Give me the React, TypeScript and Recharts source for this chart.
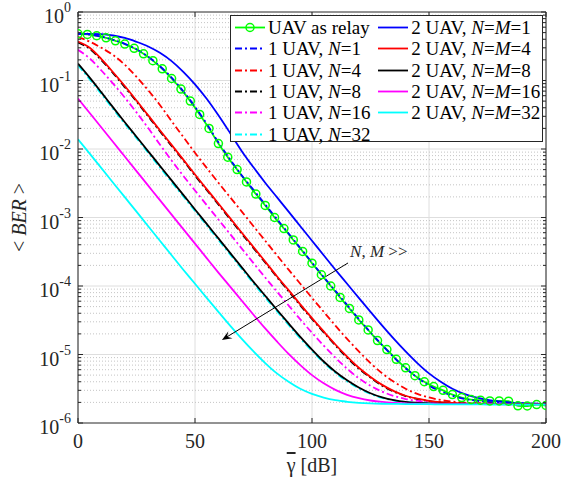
import React from 'react';
import { LineChart, Line, XAxis, YAxis, CartesianGrid, ReferenceLine, Legend } from 'recharts';

// SNR grid (dB) of the simulated curves, and of the "UAV as relay" markers
const GAMMA_DB = [
    0, 5, 10, 15, 20, 25, 30, 35, 40, 45, 50, 55, 60, 65, 70, 75, 80, 85, 90, 95, 100,
    105, 110, 115, 120, 125, 130, 135, 140, 145, 150, 155, 160, 165, 170, 175, 180, 185, 190, 195, 200
];
const GAMMA_RELAY_DB = [
    0, 4, 8, 12, 16, 20, 24, 28, 32, 36, 40, 44, 48, 52, 56, 60, 64, 68, 72, 76, 80, 84, 88, 92, 96,
    100, 104, 108, 112, 116, 120, 124, 128, 132, 136, 140, 144, 148, 152, 156, 160, 164, 168, 172,
    176, 180, 184, 188, 192, 196, 200
];

const BER_RELAY = [
    0.48, 0.47, 0.45, 0.42, 0.38, 0.34, 0.295, 0.245, 0.195, 0.148,
    0.107, 0.075, 0.05, 0.032, 0.02, 0.012, 0.0076, 0.005, 0.0033, 0.0022,
    0.0015, 0.001, 6.9e-4, 4.7e-4, 3.2e-4, 2.15e-4, 1.46e-4, 1.0e-4, 6.8e-5, 4.7e-5,
    3.2e-5, 2.28e-5, 1.6e-5, 1.18e-5, 8.5e-6, 6.4e-6, 4.9e-6, 4.0e-6, 3.4e-6, 3.0e-6,
    2.6e-6, 2.35e-6, 2.2e-6, 2.15e-6, 2.1e-6, 2.1e-6, 2.08e-6, 1.78e-6, 1.77e-6, 1.86e-6, 1.8e-6
];
const BER_1UAV_N1 = [
    0.48, 0.467, 0.436, 0.393, 0.343, 0.286, 0.222, 0.162, 0.11, 0.0698,
    0.0414, 0.0233, 0.0125, 0.00706, 0.00411, 0.00253, 0.00155, 9.5e-4, 5.85e-4, 3.59e-4,
    2.2e-4, 1.35e-4, 8.5e-5, 5.3e-5, 3.3e-5, 2.1e-5, 1.37e-5, 9.1e-6, 6.3e-6, 4.6e-6,
    3.5e-6, 2.9e-6, 2.5e-6, 2.25e-6, 2.12e-6, 2.03e-6, 1.98e-6, 1.95e-6, 1.93e-6, 1.91e-6, 1.9e-6
];
const BER_1UAV_N4 = [
    0.43, 0.37, 0.3, 0.235, 0.17, 0.113, 0.072, 0.044, 0.0255, 0.015,
    0.0088, 0.0053, 0.00322, 0.00198, 0.00122, 7.46e-4, 4.58e-4, 2.81e-4, 1.73e-4, 1.08e-4,
    6.7e-5, 4.2e-5, 2.64e-5, 1.69e-5, 1.11e-5, 7.5e-6, 5.3e-6, 4.0e-6, 3.16e-6, 2.66e-6,
    2.36e-6, 2.17e-6, 2.06e-6, 1.99e-6, 1.95e-6, 1.93e-6, 1.92e-6, 1.91e-6, 1.9e-6, 1.9e-6, 1.9e-6
];
const BER_1UAV_N8 = [
    0.36, 0.29, 0.198, 0.128, 0.08, 0.0495, 0.03, 0.0182, 0.0111, 0.0068,
    0.0041, 0.00252, 0.00155, 9.5e-4, 5.8e-4, 3.58e-4, 2.2e-4, 1.35e-4, 8.4e-5, 5.2e-5,
    3.3e-5, 2.1e-5, 1.36e-5, 9.0e-6, 6.2e-6, 4.6e-6, 3.5e-6, 2.87e-6, 2.47e-6, 2.23e-6,
    2.09e-6, 2.01e-6, 1.96e-6, 1.93e-6, 1.92e-6, 1.91e-6, 1.9e-6, 1.9e-6, 1.89e-6, 1.89e-6, 1.89e-6
];
const BER_1UAV_N16 = [
    0.28, 0.21, 0.14, 0.09, 0.0564, 0.0342, 0.0202, 0.0116, 0.0068, 0.00406,
    0.00248, 0.00152, 9.34e-4, 5.73e-4, 3.52e-4, 2.16e-4, 1.33e-4, 8.3e-5, 5.2e-5, 3.25e-5,
    2.07e-5, 1.35e-5, 9.0e-6, 6.2e-6, 4.5e-6, 3.5e-6, 2.87e-6, 2.48e-6, 2.24e-6, 2.1e-6,
    2.02e-6, 1.97e-6, 1.94e-6, 1.92e-6, 1.91e-6, 1.9e-6, 1.9e-6, 1.89e-6, 1.89e-6, 1.89e-6, 1.89e-6
];
const BER_1UAV_N32 = [
    0.166, 0.104, 0.0635, 0.0385, 0.0234, 0.0144, 0.0088, 0.0054, 0.0033, 0.00203,
    0.00125, 7.67e-4, 4.7e-4, 2.89e-4, 1.78e-4, 1.09e-4, 6.8e-5, 4.3e-5, 2.7e-5, 1.72e-5,
    1.13e-5, 7.6e-6, 5.4e-6, 4.05e-6, 3.2e-6, 2.66e-6, 2.32e-6, 2.13e-6, 2.02e-6, 1.96e-6,
    1.93e-6, 1.91e-6, 1.9e-6, 1.9e-6, 1.89e-6, 1.89e-6, 1.89e-6, 1.88e-6, 1.88e-6, 1.88e-6, 1.88e-6
];
const BER_2UAV_NM1 = [
    0.48, 0.478, 0.475, 0.454, 0.418, 0.367, 0.314, 0.254, 0.192, 0.134,
    0.088, 0.054, 0.031, 0.0171, 0.0093, 0.0054, 0.00322, 0.00198, 0.00122, 7.46e-4,
    4.58e-4, 2.81e-4, 1.73e-4, 1.08e-4, 6.7e-5, 4.2e-5, 2.64e-5, 1.69e-5, 1.11e-5, 7.5e-6,
    5.3e-6, 4.0e-6, 3.16e-6, 2.66e-6, 2.36e-6, 2.17e-6, 2.06e-6, 1.99e-6, 1.95e-6, 1.92e-6, 1.9e-6
];
const BER_2UAV_NM4 = [
    0.37, 0.3, 0.205, 0.132, 0.083, 0.051, 0.031, 0.0188, 0.0115, 0.007,
    0.00424, 0.0026, 0.0016, 9.8e-4, 6.0e-4, 3.7e-4, 2.27e-4, 1.39e-4, 8.7e-5, 5.4e-5,
    3.4e-5, 2.17e-5, 1.4e-5, 9.3e-6, 6.4e-6, 4.7e-6, 3.6e-6, 2.92e-6, 2.5e-6, 2.26e-6,
    2.11e-6, 2.02e-6, 1.97e-6, 1.94e-6, 1.92e-6, 1.91e-6, 1.9e-6, 1.9e-6, 1.9e-6, 1.89e-6, 1.89e-6
];
const BER_2UAV_NM8 = [
    0.176, 0.11, 0.067, 0.0405, 0.0246, 0.0151, 0.00925, 0.00568, 0.00348, 0.00214,
    0.00131, 8.07e-4, 4.95e-4, 3.04e-4, 1.87e-4, 1.15e-4, 7.2e-5, 4.5e-5, 2.84e-5, 1.81e-5,
    1.18e-5, 7.9e-6, 5.6e-6, 4.2e-6, 3.3e-6, 2.72e-6, 2.36e-6, 2.15e-6, 2.03e-6, 1.97e-6,
    1.93e-6, 1.91e-6, 1.9e-6, 1.9e-6, 1.89e-6, 1.89e-6, 1.89e-6, 1.88e-6, 1.88e-6, 1.88e-6, 1.88e-6
];
const BER_2UAV_NM16 = [
    0.0546, 0.0335, 0.0206, 0.01265, 0.00776, 0.00476, 0.00292, 0.00179, 0.0011, 6.77e-4,
    4.16e-4, 2.55e-4, 1.57e-4, 9.8e-5, 6.1e-5, 3.8e-5, 2.4e-5, 1.55e-5, 1.02e-5, 7.0e-6,
    5.0e-6, 3.8e-6, 3.05e-6, 2.58e-6, 2.3e-6, 2.13e-6, 2.03e-6, 1.97e-6, 1.93e-6, 1.91e-6,
    1.9e-6, 1.89e-6, 1.89e-6, 1.88e-6, 1.88e-6, 1.88e-6, 1.88e-6, 1.87e-6, 1.87e-6, 1.87e-6, 1.87e-6
];
const BER_2UAV_NM32 = [
    0.0139, 0.00855, 0.00525, 0.00322, 0.00198, 0.00122, 7.46e-4, 4.58e-4, 2.81e-4, 1.73e-4,
    1.08e-4, 6.7e-5, 4.2e-5, 2.64e-5, 1.69e-5, 1.11e-5, 7.5e-6, 5.3e-6, 4.0e-6, 3.16e-6,
    2.66e-6, 2.35e-6, 2.15e-6, 2.04e-6, 1.97e-6, 1.93e-6, 1.91e-6, 1.9e-6, 1.89e-6, 1.88e-6,
    1.88e-6, 1.87e-6, 1.87e-6, 1.87e-6, 1.87e-6, 1.86e-6, 1.86e-6, 1.86e-6, 1.86e-6, 1.86e-6, 1.86e-6
];

const X_TICKS = [0, 50, 100, 150, 200];
const Y_DECADES = [1e-6, 1e-5, 1e-4, 1e-3, 1e-2, 1e-1, 1];
const Y_MINOR_STEPS = [2, 3, 4, 5, 6, 7, 8, 9];

// "N, M >>" arrow, in data units (dB, BER)
const ARROW_FROM = { x: 115.4, y: 2.17e-4 };
const ARROW_TO = { x: 61.5, y: 1.63e-5 };

const SERIF = '"Liberation Serif", "Times New Roman", "DejaVu Serif", serif';
const AXIS = '#262626';
const DASHDOT = '7 3 2 3';
const PLOT_W = 468;
const PLOT_H = 411;

const Nv = () => <i>N</i>;
const Mv = () => <i>M</i>;

type Serie = {
    id: string;
    label: React.ReactNode;
    color: string;
    dash?: string;
    marker?: boolean;
    xs: number[];
    ys: number[];
};

const ONE_UAV: Serie[] = [
    { id: 'u1n1', label: <>1 UAV, <Nv />=1</>, color: '#0000ff', dash: DASHDOT, xs: GAMMA_DB, ys: BER_1UAV_N1 },
    { id: 'u1n4', label: <>1 UAV, <Nv />=4</>, color: '#ff0000', dash: DASHDOT, xs: GAMMA_DB, ys: BER_1UAV_N4 },
    { id: 'u1n8', label: <>1 UAV, <Nv />=8</>, color: '#000000', dash: DASHDOT, xs: GAMMA_DB, ys: BER_1UAV_N8 },
    { id: 'u1n16', label: <>1 UAV, <Nv />=16</>, color: '#ff00ff', dash: DASHDOT, xs: GAMMA_DB, ys: BER_1UAV_N16 },
    { id: 'u1n32', label: <>1 UAV, <Nv />=32</>, color: '#00ffff', dash: DASHDOT, xs: GAMMA_DB, ys: BER_1UAV_N32 }
];
const TWO_UAV: Serie[] = [
    { id: 'u2m1', label: <>2 UAV, <Nv />=<Mv />=1</>, color: '#0000ff', xs: GAMMA_DB, ys: BER_2UAV_NM1 },
    { id: 'u2m4', label: <>2 UAV, <Nv />=<Mv />=4</>, color: '#ff0000', xs: GAMMA_DB, ys: BER_2UAV_NM4 },
    { id: 'u2m8', label: <>2 UAV, <Nv />=<Mv />=8</>, color: '#000000', xs: GAMMA_DB, ys: BER_2UAV_NM8 },
    { id: 'u2m16', label: <>2 UAV, <Nv />=<Mv />=16</>, color: '#ff00ff', xs: GAMMA_DB, ys: BER_2UAV_NM16 },
    { id: 'u2m32', label: <>2 UAV, <Nv />=<Mv />=32</>, color: '#00ffff', xs: GAMMA_DB, ys: BER_2UAV_NM32 }
];
const RELAY: Serie = {
    id: 'relay', label: 'UAV as relay', color: '#00ff00', marker: true, xs: GAMMA_RELAY_DB, ys: BER_RELAY
};
const ALL_SERIES = [RELAY, ...ONE_UAV, ...TWO_UAV];

const toPoints = (xs: number[], ys: number[]) => xs.map((x, i) => ({ x, y: ys[i] }));

const minorTicks = Y_DECADES.slice(0, -1).flatMap(d => Y_MINOR_STEPS.map(m => m * d));
const yTicks = [...Y_DECADES, ...minorTicks].sort((a, b) => a - b);

const isDecade = (v: number) => {
    const e = Math.log10(v);
    return Math.abs(e - Math.round(e)) < 1e-6;
};

// ticks point inward, on both sides of the box (matlab style)
const renderYTick = (props: any) => {
    const { x, y, payload } = props;
    const v = payload.value as number;
    const major = isDecade(v);
    const len = major ? 5 : 3;
    return (
        <g>
            <line x1={x} x2={x + len} y1={y} y2={y} stroke={AXIS} />
            <line x1={x + PLOT_W - len} x2={x + PLOT_W} y1={y} y2={y} stroke={AXIS} />
            {major && (
                <text x={x - 7} y={y + 11} textAnchor="end" fontFamily={SERIF} fontSize={20} fill={AXIS}>
                    10<tspan dy={-11} fontSize={14}>{Math.round(Math.log10(v))}</tspan>
                </text>
            )}
        </g>
    );
};

const renderXTick = (props: any) => {
    const { x, y, payload } = props;
    return (
        <g>
            <line x1={x} x2={x} y1={y} y2={y - 5} stroke={AXIS} />
            <line x1={x} x2={x} y1={y - PLOT_H} y2={y - PLOT_H + 5} stroke={AXIS} />
            <text x={x} y={y + 25} textAnchor="middle" fontFamily={SERIF} fontSize={20} fill={AXIS}>
                {payload.value}
            </text>
        </g>
    );
};

const renderXLabel = (props: any) => {
    const { x, y, width } = props.viewBox;
    return (
        <text x={x + width / 2} y={y + 49} textAnchor="middle" fontFamily={SERIF} fontSize={20} fill={AXIS}>
            <tspan style={{ textDecoration: 'overline' }}>γ</tspan> [dB]
        </text>
    );
};

const renderYLabel = (props: any) => {
    const { y, height } = props.viewBox;
    const cx = 26;
    const cy = y + height / 2;
    return (
        <text x={cx} y={cy} transform={`rotate(-90, ${cx}, ${cy})`} textAnchor="middle" fontFamily={SERIF} fontSize={20} fill={AXIS}>
            {'< '}<tspan fontStyle="italic">BER</tspan>{' >'}
        </text>
    );
};

const renderArrow = (props: any) => {
    const { x1, y1, x2, y2 } = props;
    const len = Math.hypot(x1 - x2, y1 - y2);
    const ux = (x1 - x2) / len;
    const uy = (y1 - y2) / len;
    const head = 10;
    const half = 4;
    const bx = x2 + ux * head;
    const by = y2 + uy * head;
    const nx = x2 + ux * head * 0.6;
    const ny = y2 + uy * head * 0.6;
    const pts = [
        [x2, y2],
        [bx - uy * half, by + ux * half],
        [nx, ny],
        [bx + uy * half, by - ux * half]
    ].map(p => p.join(',')).join(' ');
    return (
        <g>
            <line x1={x1} y1={y1} x2={nx} y2={ny} stroke="#000" strokeWidth={1} />
            <polygon points={pts} fill="#000" />
            <text x={x1 + 2} y={y1 - 6} fontFamily={SERIF} fontSize={17} fill={AXIS}>
                <tspan fontStyle="italic">N</tspan>, <tspan fontStyle="italic">M</tspan> &gt;&gt;
            </text>
        </g>
    );
};

const LegendSwatch = ({ s }: { s: Serie }) => (
    <svg width={30} height={21} style={{ flex: 'none' }}>
        <line x1={0} x2={30} y1={10.5} y2={10.5} stroke={s.color} strokeWidth={1.8} strokeDasharray={s.dash} />
        {s.marker && <circle cx={15} cy={10.5} r={4} stroke={s.color} strokeWidth={1.5} fill="none" />}
    </svg>
);

const LegendItem = ({ s }: { s: Serie }) => (
    <div style={{ display: 'flex', alignItems: 'center', height: 21.3 }}>
        <LegendSwatch s={s} />
        <span style={{ marginLeft: 3, whiteSpace: 'nowrap' }}>{s.label}</span>
    </div>
);

const renderLegend = () => (
    <div
        style={{
            width: 313,
            height: 127,
            boxSizing: 'border-box',
            border: `1px solid ${AXIS}`,
            background: '#fff',
            padding: '1px 0 0 4px',
            display: 'flex',
            fontFamily: SERIF,
            fontSize: 19,
            color: '#000',
            lineHeight: '21px'
        }}
    >
        <div style={{ width: 143.3 }}>
            {[RELAY, ...ONE_UAV].map(s => <LegendItem key={s.id} s={s} />)}
        </div>
        <div>
            {TWO_UAV.map(s => <LegendItem key={s.id} s={s} />)}
        </div>
    </div>
);

export default function App() {
    return (
        <div style={{ position: 'absolute', left: 0, top: 0, background: '#fff' }}>
            <LineChart width={561} height={487} margin={{ top: 12, right: 15, left: 0, bottom: 0 }}>
                <CartesianGrid horizontal={false} stroke="#dedede" />
                {minorTicks.map(v => (
                    <ReferenceLine key={`mn-${v}`} y={v} stroke="#c4c4c4" strokeDasharray="1 2" />
                ))}
                {Y_DECADES.slice(1, -1).map(v => (
                    <ReferenceLine key={`mj-${v}`} y={v} stroke="#dedede" />
                ))}
                <XAxis
                    dataKey="x"
                    type="number"
                    domain={[0, 200]}
                    ticks={X_TICKS}
                    interval={0}
                    allowDataOverflow
                    height={64}
                    tickSize={0}
                    tickMargin={0}
                    tickLine={false}
                    tick={renderXTick}
                    axisLine={{ stroke: AXIS }}
                    label={renderXLabel}
                />
                <YAxis
                    dataKey="y"
                    scale="log"
                    domain={[1e-6, 1]}
                    ticks={yTicks}
                    interval={0}
                    allowDataOverflow
                    width={78}
                    tickSize={0}
                    tickMargin={0}
                    tickLine={false}
                    tick={renderYTick}
                    axisLine={{ stroke: AXIS }}
                    label={renderYLabel}
                />
                {ALL_SERIES.map(s => (
                    <Line
                        key={s.id}
                        data={toPoints(s.xs, s.ys)}
                        dataKey="y"
                        name={s.id}
                        type="monotone"
                        stroke={s.color}
                        strokeWidth={1.8}
                        strokeDasharray={s.dash}
                        dot={s.marker ? { r: 4, stroke: s.color, strokeWidth: 1.5, fill: 'none' } : false}
                        activeDot={false}
                        isAnimationActive={false}
                    />
                ))}
                <ReferenceLine y={1} stroke={AXIS} ifOverflow="visible" />
                <ReferenceLine x={200} stroke={AXIS} ifOverflow="visible" />
                <ReferenceLine segment={[ARROW_FROM, ARROW_TO]} shape={renderArrow} ifOverflow="visible" />
                <Legend
                    layout="vertical"
                    align="center"
                    verticalAlign="middle"
                    content={renderLegend}
                    wrapperStyle={{ left: 230, top: 15, width: 313, height: 127 }}
                />
            </LineChart>
        </div>
    );
}
